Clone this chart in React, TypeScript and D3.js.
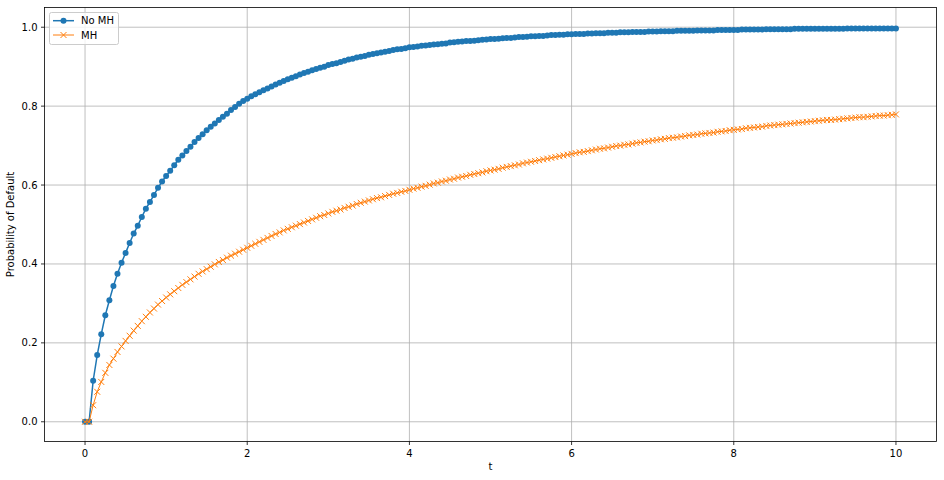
import React from "react";
import * as d3 from "d3";

const T_START = 0;
const T_STEP = 0.05;

const noMH: number[] = [
  0, 0, 0.104, 0.169, 0.222, 0.270, 0.308, 0.344, 0.375, 0.403,
  0.428, 0.453, 0.477, 0.497, 0.519, 0.540, 0.557, 0.575, 0.593, 0.609,
  0.623, 0.636, 0.650, 0.664, 0.675, 0.686, 0.697, 0.709, 0.719, 0.729,
  0.739, 0.748, 0.756, 0.765, 0.773, 0.781, 0.790, 0.798, 0.806, 0.813,
  0.819,
  0.825, 0.830, 0.835, 0.840, 0.845, 0.850, 0.855, 0.859, 0.864, 0.868,
  0.872, 0.876, 0.880, 0.884, 0.887, 0.891, 0.894, 0.897, 0.900, 0.904,
  0.907, 0.909, 0.912, 0.915, 0.918, 0.920, 0.923, 0.925, 0.927, 0.930,
  0.932, 0.934, 0.936, 0.938, 0.940, 0.942, 0.944, 0.945, 0.947, 0.949,
  0.950, 0.951, 0.953, 0.954, 0.955, 0.956, 0.957, 0.958, 0.959, 0.961,
  0.962, 0.963, 0.964, 0.965, 0.965, 0.966, 0.967, 0.968, 0.969, 0.970,
  0.970, 0.971, 0.972, 0.973, 0.973, 0.974, 0.975, 0.975, 0.976, 0.977,
  0.977, 0.978, 0.978, 0.979, 0.980, 0.980, 0.981, 0.981, 0.982, 0.982,
  0.983, 0.983, 0.983, 0.984, 0.984, 0.985, 0.985, 0.985, 0.986, 0.986,
  0.986, 0.987, 0.987, 0.987, 0.988, 0.988, 0.988, 0.988, 0.989, 0.989,
  0.989, 0.990, 0.990, 0.990, 0.990, 0.991, 0.991, 0.991, 0.991, 0.991,
  0.992, 0.992, 0.992, 0.992, 0.992, 0.993, 0.993, 0.993, 0.993, 0.993,
  0.993, 0.994, 0.994, 0.994, 0.994, 0.994, 0.994, 0.995, 0.995, 0.995,
  0.995, 0.995, 0.995, 0.995, 0.996, 0.996, 0.996, 0.996, 0.996, 0.996,
  0.996, 0.996, 0.996, 0.996, 0.996, 0.996, 0.996, 0.997, 0.997, 0.997,
  0.997, 0.997, 0.997, 0.997, 0.997, 0.997, 0.997, 0.997, 0.997, 0.997,
];

const withMH: number[] = [
  0, 0, 0.042, 0.076, 0.101, 0.124, 0.144, 0.160, 0.177, 0.191,
  0.205, 0.218, 0.231, 0.243, 0.255, 0.266, 0.277, 0.287, 0.297, 0.306,
  0.315, 0.323, 0.331, 0.339, 0.347, 0.354, 0.361, 0.368, 0.375, 0.381,
  0.387, 0.393, 0.399, 0.405, 0.410, 0.416, 0.421, 0.426, 0.431, 0.436,
  0.441,
  0.446, 0.451, 0.456, 0.461, 0.466, 0.471, 0.476, 0.480, 0.485, 0.489,
  0.493, 0.497, 0.501, 0.505, 0.509, 0.513, 0.517, 0.521, 0.524, 0.528,
  0.532, 0.535, 0.538, 0.542, 0.545, 0.548, 0.552, 0.555, 0.558, 0.561,
  0.564, 0.567, 0.569, 0.572, 0.575, 0.578, 0.580, 0.583, 0.585, 0.588,
  0.591, 0.593, 0.596, 0.598, 0.601, 0.604, 0.606, 0.609, 0.611, 0.614,
  0.616, 0.619, 0.621, 0.623, 0.626, 0.628, 0.630, 0.632, 0.635, 0.637,
  0.639, 0.641, 0.644, 0.646, 0.648, 0.650, 0.652, 0.655, 0.657, 0.659,
  0.661, 0.663, 0.665, 0.667, 0.669, 0.671, 0.673, 0.675, 0.677, 0.679,
  0.681, 0.683, 0.684, 0.686, 0.688, 0.690, 0.692, 0.693, 0.695, 0.697,
  0.699, 0.700, 0.702, 0.703, 0.705, 0.707, 0.708, 0.710, 0.711, 0.713,
  0.714, 0.716, 0.717, 0.719, 0.720, 0.721, 0.723, 0.724, 0.726, 0.727,
  0.728, 0.730, 0.731, 0.732, 0.733, 0.735, 0.736, 0.737, 0.739, 0.740,
  0.741, 0.742, 0.744, 0.745, 0.746, 0.747, 0.748, 0.750, 0.751, 0.752,
  0.753, 0.754, 0.755, 0.756, 0.757, 0.758, 0.759, 0.760, 0.761, 0.762,
  0.763, 0.764, 0.765, 0.765, 0.766, 0.767, 0.768, 0.769, 0.770, 0.771,
  0.772, 0.772, 0.773, 0.774, 0.775, 0.776, 0.776, 0.777, 0.778, 0.779,
];

const xTicks = [0, 2, 4, 6, 8, 10];
const yTicks = [0, 0.2, 0.4, 0.6, 0.8, 1.0];
const seriesNames = ["No MH", "MH"];
const xLabel = "t";
const yLabel = "Probability of Default";

const W = 944;
const H = 480;
const M = { left: 44.5, right: 936.5, top: 7.5, bottom: 441.5 };
const BLUE = "#1f77b4";
const ORANGE = "#ff7f0e";
const FONT = "'DejaVu Sans', sans-serif";

export default function App() {
  const x = d3.scaleLinear().domain([-0.5, 10.5]).range([M.left, M.right]);
  const y = d3.scaleLinear().domain([-0.05, 1.05]).range([M.bottom, M.top]);
  const tVals = noMH.map((_, i) => T_START + i * T_STEP);
  const line = d3
    .line<number>()
    .x((_, i) => x(tVals[i]))
    .y((d) => y(d));

  return (
    <svg
      width={W}
      height={H}
      style={{ position: "absolute", left: 0, top: 0, background: "#fff" }}
      fontFamily={FONT}
    >
      <rect x={0} y={0} width={W} height={H} fill="#fff" />
      {/* grid */}
      {xTicks.map((t) => (
        <line key={"gx" + t} x1={x(t)} x2={x(t)} y1={M.top} y2={M.bottom} stroke="#b0b0b0" strokeWidth={0.8} />
      ))}
      {yTicks.map((t) => (
        <line key={"gy" + t} x1={M.left} x2={M.right} y1={y(t)} y2={y(t)} stroke="#b0b0b0" strokeWidth={0.8} />
      ))}
      {/* No MH series */}
      <path d={line(noMH) || ""} fill="none" stroke={BLUE} strokeWidth={1.5} />
      {noMH.map((v, i) => (
        <circle key={"b" + i} cx={x(tVals[i])} cy={y(v)} r={3} fill={BLUE} />
      ))}
      {/* MH series */}
      <path d={line(withMH) || ""} fill="none" stroke={ORANGE} strokeWidth={1} />
      {withMH.map((v, i) => {
        const cx = x(tVals[i]);
        const cy = y(v);
        return (
          <path
            key={"o" + i}
            d={`M${cx - 3},${cy - 3}L${cx + 3},${cy + 3}M${cx - 3},${cy + 3}L${cx + 3},${cy - 3}`}
            stroke={ORANGE}
            strokeWidth={1}
            fill="none"
          />
        );
      })}
      {/* spines */}
      <rect x={M.left} y={M.top} width={M.right - M.left} height={M.bottom - M.top} fill="none" stroke="#000" strokeWidth={0.8} />
      {/* x ticks */}
      {xTicks.map((t) => (
        <g key={"xt" + t}>
          <line x1={x(t)} x2={x(t)} y1={M.bottom} y2={M.bottom + 3.5} stroke="#000" strokeWidth={0.8} />
          <text x={x(t)} y={M.bottom + 15.5} fontSize={10} textAnchor="middle" fill="#000">
            {String(t)}
          </text>
        </g>
      ))}
      {/* y ticks */}
      {yTicks.map((t) => (
        <g key={"yt" + t}>
          <line x1={M.left - 3.5} x2={M.left} y1={y(t)} y2={y(t)} stroke="#000" strokeWidth={0.8} />
          <text x={M.left - 7} y={y(t)} dy="0.35em" fontSize={10} textAnchor="end" fill="#000">
            {t.toFixed(1)}
          </text>
        </g>
      ))}
      <text x={(M.left + M.right) / 2} y={470} fontSize={10} textAnchor="middle" fill="#000">
        {xLabel}
      </text>
      <text
        transform={`translate(14,${(M.top + M.bottom) / 2}) rotate(-90)`}
        fontSize={10}
        textAnchor="middle"
        fill="#000"
      >
        {yLabel}
      </text>
      {/* legend */}
      <g>
        <rect x={49.5} y={12.5} width={69} height={32} rx={2} fill="#fff" fillOpacity={0.8} stroke="#cccccc" strokeWidth={1} />
        <line x1={53} x2={74} y1={20.7} y2={20.7} stroke={BLUE} strokeWidth={1.5} />
        <circle cx={63.5} cy={20.7} r={3} fill={BLUE} />
        <text x={81} y={20.7} dy="0.35em" fontSize={10} fill="#000">
          {seriesNames[0]}
        </text>
        <line x1={53} x2={74} y1={35} y2={35} stroke={ORANGE} strokeWidth={1} />
        <path d="M60.5,32L66.5,38M60.5,38L66.5,32" stroke={ORANGE} strokeWidth={1} fill="none" />
        <text x={81} y={35} dy="0.35em" fontSize={10} fill="#000">
          {seriesNames[1]}
        </text>
      </g>
    </svg>
  );
}
